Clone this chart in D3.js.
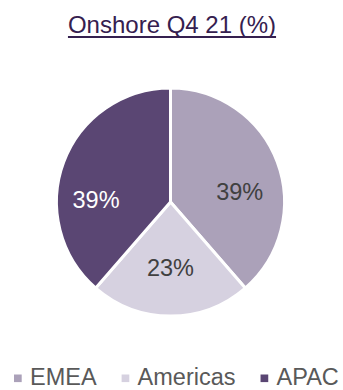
<!DOCTYPE html>
<html>
<head>
<meta charset="utf-8">
<script src="https://cdn.jsdelivr.net/npm/d3@7/dist/d3.min.js"></script>
<style>
  html, body { margin: 0; padding: 0; background: #ffffff; }
  svg { display: block; }
  text { font-family: "Liberation Sans", Arial, sans-serif; }
</style>
</head>
<body>
<div id="chart"></div>
<script>
// Onshore revenue split by region, Q4 21
const categories = ["EMEA", "Americas", "APAC"];
const values = [39, 23, 39];
const colors = ["#aba1b9", "#d6d1e0", "#5a4673"];
const labelColors = ["#404040", "#404040", "#ffffff"];
const titleText = "Onshore Q4 21 (%)";

// label placement around each slice: angle shift (deg) from the slice middle, and radius
const labelLayout = [
  { shift: 12, radius: 70 },
  { shift: 0, radius: 66 },
  { shift: -18.5, radius: 74.5 }
];

const W = 343, H = 390;
const cx = 170.5, cy = 202, R = 114;
const fontSize = 23.5;

const svg = d3.select("#chart").append("svg")
  .attr("width", W).attr("height", H);

// title with underline
const title = svg.append("text")
  .attr("x", 172).attr("y", 33)
  .attr("text-anchor", "middle")
  .attr("font-size", 24)
  .attr("fill", "#35204f")
  .text(titleText);
const tb = title.node().getBBox();
svg.append("line")
  .attr("x1", tb.x).attr("x2", tb.x + tb.width)
  .attr("y1", 37).attr("y2", 37)
  .attr("stroke", "#35204f").attr("stroke-width", 1.8);

const data = categories.map((c, i) => ({ name: c, value: values[i], i }));

const pie = d3.pie().value(d => d.value).sort(null);
const arc = d3.arc().innerRadius(0).outerRadius(R);
const arcs = pie(data);

const g = svg.append("g").attr("transform", `translate(${cx},${cy})`);

g.selectAll("path.slice")
  .data(arcs)
  .join("path")
  .attr("class", "slice")
  .attr("d", arc)
  .attr("fill", d => colors[d.data.i])
  .attr("stroke", "#ffffff")
  .attr("stroke-width", 3)
  .attr("stroke-linejoin", "round");

g.selectAll("text.value")
  .data(arcs)
  .join("text")
  .attr("class", "value")
  .attr("transform", d => {
    const lay = labelLayout[d.data.i];
    const a = (d.startAngle + d.endAngle) / 2 + lay.shift * Math.PI / 180;
    return `translate(${lay.radius * Math.sin(a)},${-lay.radius * Math.cos(a)})`;
  })
  .attr("text-anchor", "middle")
  .attr("dy", "0.35em")
  .attr("font-size", fontSize)
  .attr("fill", d => labelColors[d.data.i])
  .text(d => d.data.value + "%");

// legend along the bottom
const legend = svg.append("g");
let x = 14;
const baseY = 385;
categories.forEach((c, i) => {
  legend.append("rect")
    .attr("x", x).attr("y", baseY - 10.5)
    .attr("width", 7.7).attr("height", 7.6)
    .attr("fill", colors[i]);
  const t = legend.append("text")
    .attr("x", x + 16).attr("y", baseY)
    .attr("font-size", fontSize)
    .attr("fill", "#595959")
    .text(c);
  x += 16 + t.node().getComputedTextLength() + 25;
});
</script>
</body>
</html>
